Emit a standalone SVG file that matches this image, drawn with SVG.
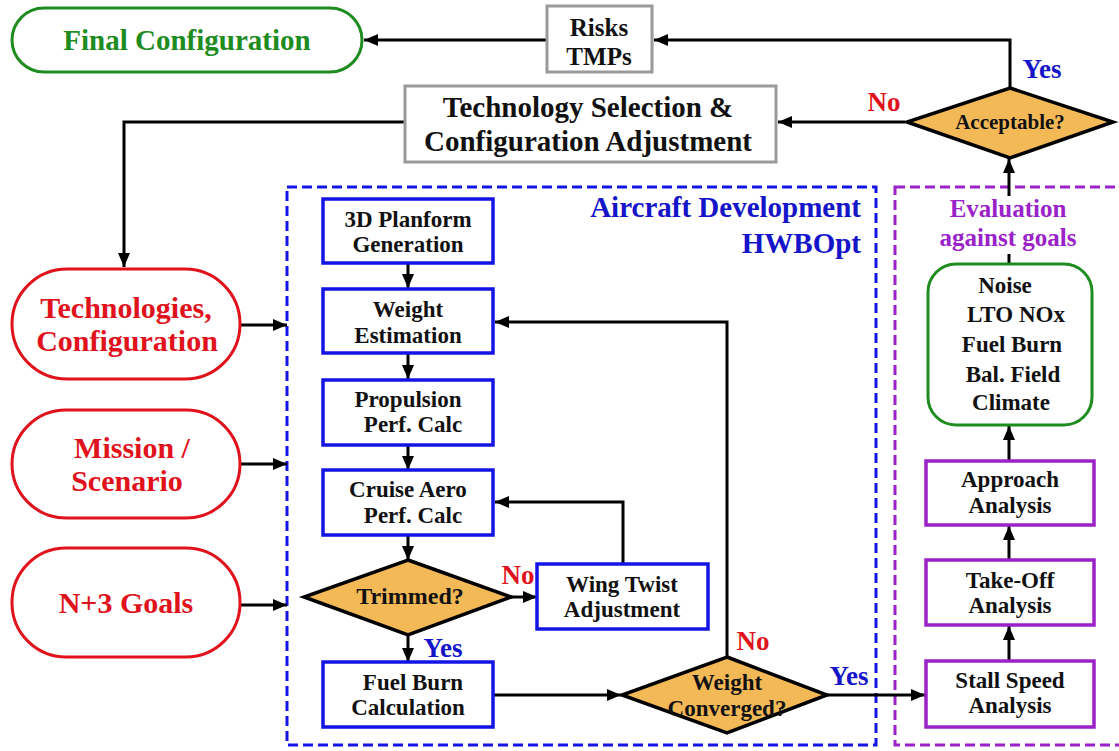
<svg xmlns="http://www.w3.org/2000/svg" width="1119" height="751" viewBox="0 0 1119 751">
  <defs>
    <marker id="arrow" viewBox="0 0 14 12" refX="14" refY="6" markerWidth="14" markerHeight="12" markerUnits="userSpaceOnUse" orient="auto">
      <path d="M0,0 L14,6 L0,12 Z" fill="#000"/>
    </marker>
    <style>
      text { font-family: "Liberation Serif", "Times New Roman", serif; font-weight: bold; text-anchor: middle; }
      .blk { fill: #111; }
      .box { font-size: 23px; }
      .lbl { font-size: 27px; }
      .conn { fill: none; stroke: #000; stroke-width: 3; }
      .arr { marker-end: url(#arrow); }
      .gray { fill: #fff; stroke: #9a9a9a; stroke-width: 3; }
      .pill-red { fill: #fff; stroke: #e0121c; stroke-width: 3; }
      .pill-green { fill: #fff; stroke: #1e8c1e; stroke-width: 3; }
      .blue { fill: #fff; stroke: #1414e6; stroke-width: 3.5; }
      .purple { fill: #fff; stroke: #9a22c8; stroke-width: 3.5; }
      .dia { fill: #f4b957; stroke: #000; stroke-width: 3.5; stroke-linejoin: miter; }
      .frame-blue { fill: none; stroke: #1414e6; stroke-width: 3; stroke-dasharray: 10 5; }
      .frame-purple { fill: none; stroke: #9a22c8; stroke-width: 3; stroke-dasharray: 10 5; }
      .t-red { fill: #e0121c; }
      .t-green { fill: #1e8c1e; }
      .t-blue { fill: #1414c8; }
      .t-purple { fill: #9a22c8; }
      .end { text-anchor: end; }
    </style>
  </defs>

  <rect width="1119" height="751" fill="#fff"/>

  <!-- dashed grouping frames -->
  <rect id="frame-aircraft" class="frame-blue" x="287" y="187" width="589" height="558"/>
  <rect id="frame-eval" class="frame-purple" x="895" y="187" width="226" height="558"/>

  <!-- connectors -->
  <g id="connectors">
    <path class="conn arr" d="M547,40 L364,40"/>
    <path class="conn arr" d="M1010,88 L1010,40 L654,40"/>
    <path class="conn arr" d="M905,122 L778,122"/>
    <path class="conn arr" d="M405,122 L124,122 L124,267"/>
    <path class="conn arr" d="M240,325 L287,325"/>
    <path class="conn arr" d="M240,464 L287,464"/>
    <path class="conn arr" d="M240,605 L287,605"/>
    <path class="conn arr" d="M408,263 L408,288"/>
    <path class="conn arr" d="M408,353 L408,379"/>
    <path class="conn arr" d="M408,445 L408,470"/>
    <path class="conn arr" d="M408,535 L408,560"/>
    <path class="conn arr" d="M408,635 L408,662"/>
    <path class="conn arr" d="M511,597 L537,597"/>
    <path class="conn arr" d="M623,564 L623,502 L495,502"/>
    <path class="conn arr" d="M493,695 L621,695"/>
    <path class="conn arr" d="M727,657 L727,322 L495,322"/>
    <path class="conn arr" d="M827,695 L925,695"/>
    <path class="conn arr" d="M1009,661 L1009,626"/>
    <path class="conn arr" d="M1009,560 L1009,526"/>
    <path class="conn arr" d="M1009,461 L1009,426"/>
    <path class="conn" d="M1009,264 L1009,254"/>
    <path class="conn arr" d="M1009,196 L1009,159"/>
  </g>

  <g id="final-config">
    <rect class="pill-green" x="12" y="8" width="350" height="64" rx="32"/>
    <text class="t-green" x="187" y="50" font-size="29">Final Configuration</text>
  </g>

  <g id="risks">
    <rect class="gray" x="547" y="6" width="105" height="66"/>
    <text class="blk" x="599" y="36" font-size="25">Risks</text>
    <text class="blk" x="599" y="65" font-size="25">TMPs</text>
  </g>

  <g id="tech-selection">
    <rect class="gray" x="405" y="86" width="371" height="76"/>
    <text class="blk" x="588" y="117" font-size="29">Technology Selection &amp;</text>
    <text class="blk" x="588" y="151" font-size="29">Configuration Adjustment</text>
  </g>

  <g id="acceptable">
    <polygon class="dia" points="1010,88 1113,122 1010,158 907,122"/>
    <text class="blk" x="1010" y="129" font-size="21">Acceptable?</text>
    <text class="t-blue lbl" x="1042" y="78">Yes</text>
    <text class="t-red lbl" x="884" y="111">No</text>
  </g>

  <g id="technologies">
    <rect class="pill-red" x="12" y="269" width="228" height="110" rx="55"/>
    <text class="t-red" x="126" y="318" font-size="30">Technologies,</text>
    <text class="t-red" x="127" y="351" font-size="30">Configuration</text>
  </g>

  <g id="mission">
    <rect class="pill-red" x="12" y="410" width="228" height="108" rx="54"/>
    <text class="t-red" x="132" y="458" font-size="30">Mission /</text>
    <text class="t-red" x="127" y="491" font-size="30">Scenario</text>
  </g>

  <g id="goals">
    <rect class="pill-red" x="12" y="548" width="228" height="109" rx="54"/>
    <text class="t-red" x="126" y="613" font-size="30">N+3 Goals</text>
  </g>

  <g id="aircraft-label">
    <text class="t-blue end" x="861" y="217" font-size="29">Aircraft Development</text>
    <text class="t-blue end" x="861" y="253" font-size="29">HWBOpt</text>
  </g>

  <g id="planform">
    <rect class="blue" x="323" y="199" width="170" height="64"/>
    <text class="blk box" x="408" y="227">3D Planform</text>
    <text class="blk box" x="408" y="252">Generation</text>
  </g>

  <g id="weight-est">
    <rect class="blue" x="323" y="289" width="170" height="64"/>
    <text class="blk box" x="408" y="317">Weight</text>
    <text class="blk box" x="408" y="343">Estimation</text>
  </g>

  <g id="propulsion">
    <rect class="blue" x="323" y="380" width="170" height="65"/>
    <text class="blk box" x="408" y="407">Propulsion</text>
    <text class="blk box" x="413" y="432">Perf. Calc</text>
  </g>

  <g id="cruise">
    <rect class="blue" x="323" y="470" width="170" height="65"/>
    <text class="blk box" x="408" y="497">Cruise Aero</text>
    <text class="blk box" x="413" y="523">Perf. Calc</text>
  </g>

  <g id="trimmed">
    <polygon class="dia" points="408,560 511,597 408,635 304,597"/>
    <text class="blk" x="410" y="604" font-size="24">Trimmed?</text>
    <text class="t-red lbl" x="518" y="584">No</text>
    <text class="t-blue lbl" x="443" y="657">Yes</text>
  </g>

  <g id="wing-twist">
    <rect class="blue" x="537" y="564" width="171" height="65"/>
    <text class="blk box" x="622" y="592">Wing Twist</text>
    <text class="blk box" x="622" y="617">Adjustment</text>
  </g>

  <g id="fuel-burn">
    <rect class="blue" x="323" y="662" width="170" height="65"/>
    <text class="blk box" x="413" y="690">Fuel Burn</text>
    <text class="blk box" x="408" y="715">Calculation</text>
  </g>

  <g id="weight-conv">
    <polygon class="dia" points="727,657 827,695 727,733 622,695"/>
    <text class="blk" x="727" y="690" font-size="23">Weight</text>
    <text class="blk" x="727" y="716" font-size="23">Converged?</text>
    <text class="t-red lbl" x="753" y="650">No</text>
    <text class="t-blue lbl" x="849" y="685">Yes</text>
  </g>

  <g id="eval-label">
    <text class="t-purple" x="1008" y="217" font-size="25">Evaluation</text>
    <text class="t-purple" x="1008" y="246" font-size="25">against goals</text>
  </g>

  <g id="metrics">
    <rect class="pill-green" x="928" y="264" width="164" height="161" rx="28"/>
    <text class="blk box" x="1005" y="293">Noise</text>
    <text class="blk box" x="1016" y="322">LTO NOx</text>
    <text class="blk box" x="1012" y="352">Fuel Burn</text>
    <text class="blk box" x="1013" y="382">Bal. Field</text>
    <text class="blk box" x="1011" y="410">Climate</text>
  </g>

  <g id="approach">
    <rect class="purple" x="926" y="461" width="168" height="64"/>
    <text class="blk box" x="1010" y="487">Approach</text>
    <text class="blk box" x="1010" y="513">Analysis</text>
  </g>

  <g id="takeoff">
    <rect class="purple" x="926" y="560" width="168" height="65"/>
    <text class="blk box" x="1010" y="588">Take-Off</text>
    <text class="blk box" x="1010" y="613">Analysis</text>
  </g>

  <g id="stall">
    <rect class="purple" x="926" y="661" width="168" height="66"/>
    <text class="blk box" x="1010" y="688">Stall Speed</text>
    <text class="blk box" x="1010" y="713">Analysis</text>
  </g>
</svg>
